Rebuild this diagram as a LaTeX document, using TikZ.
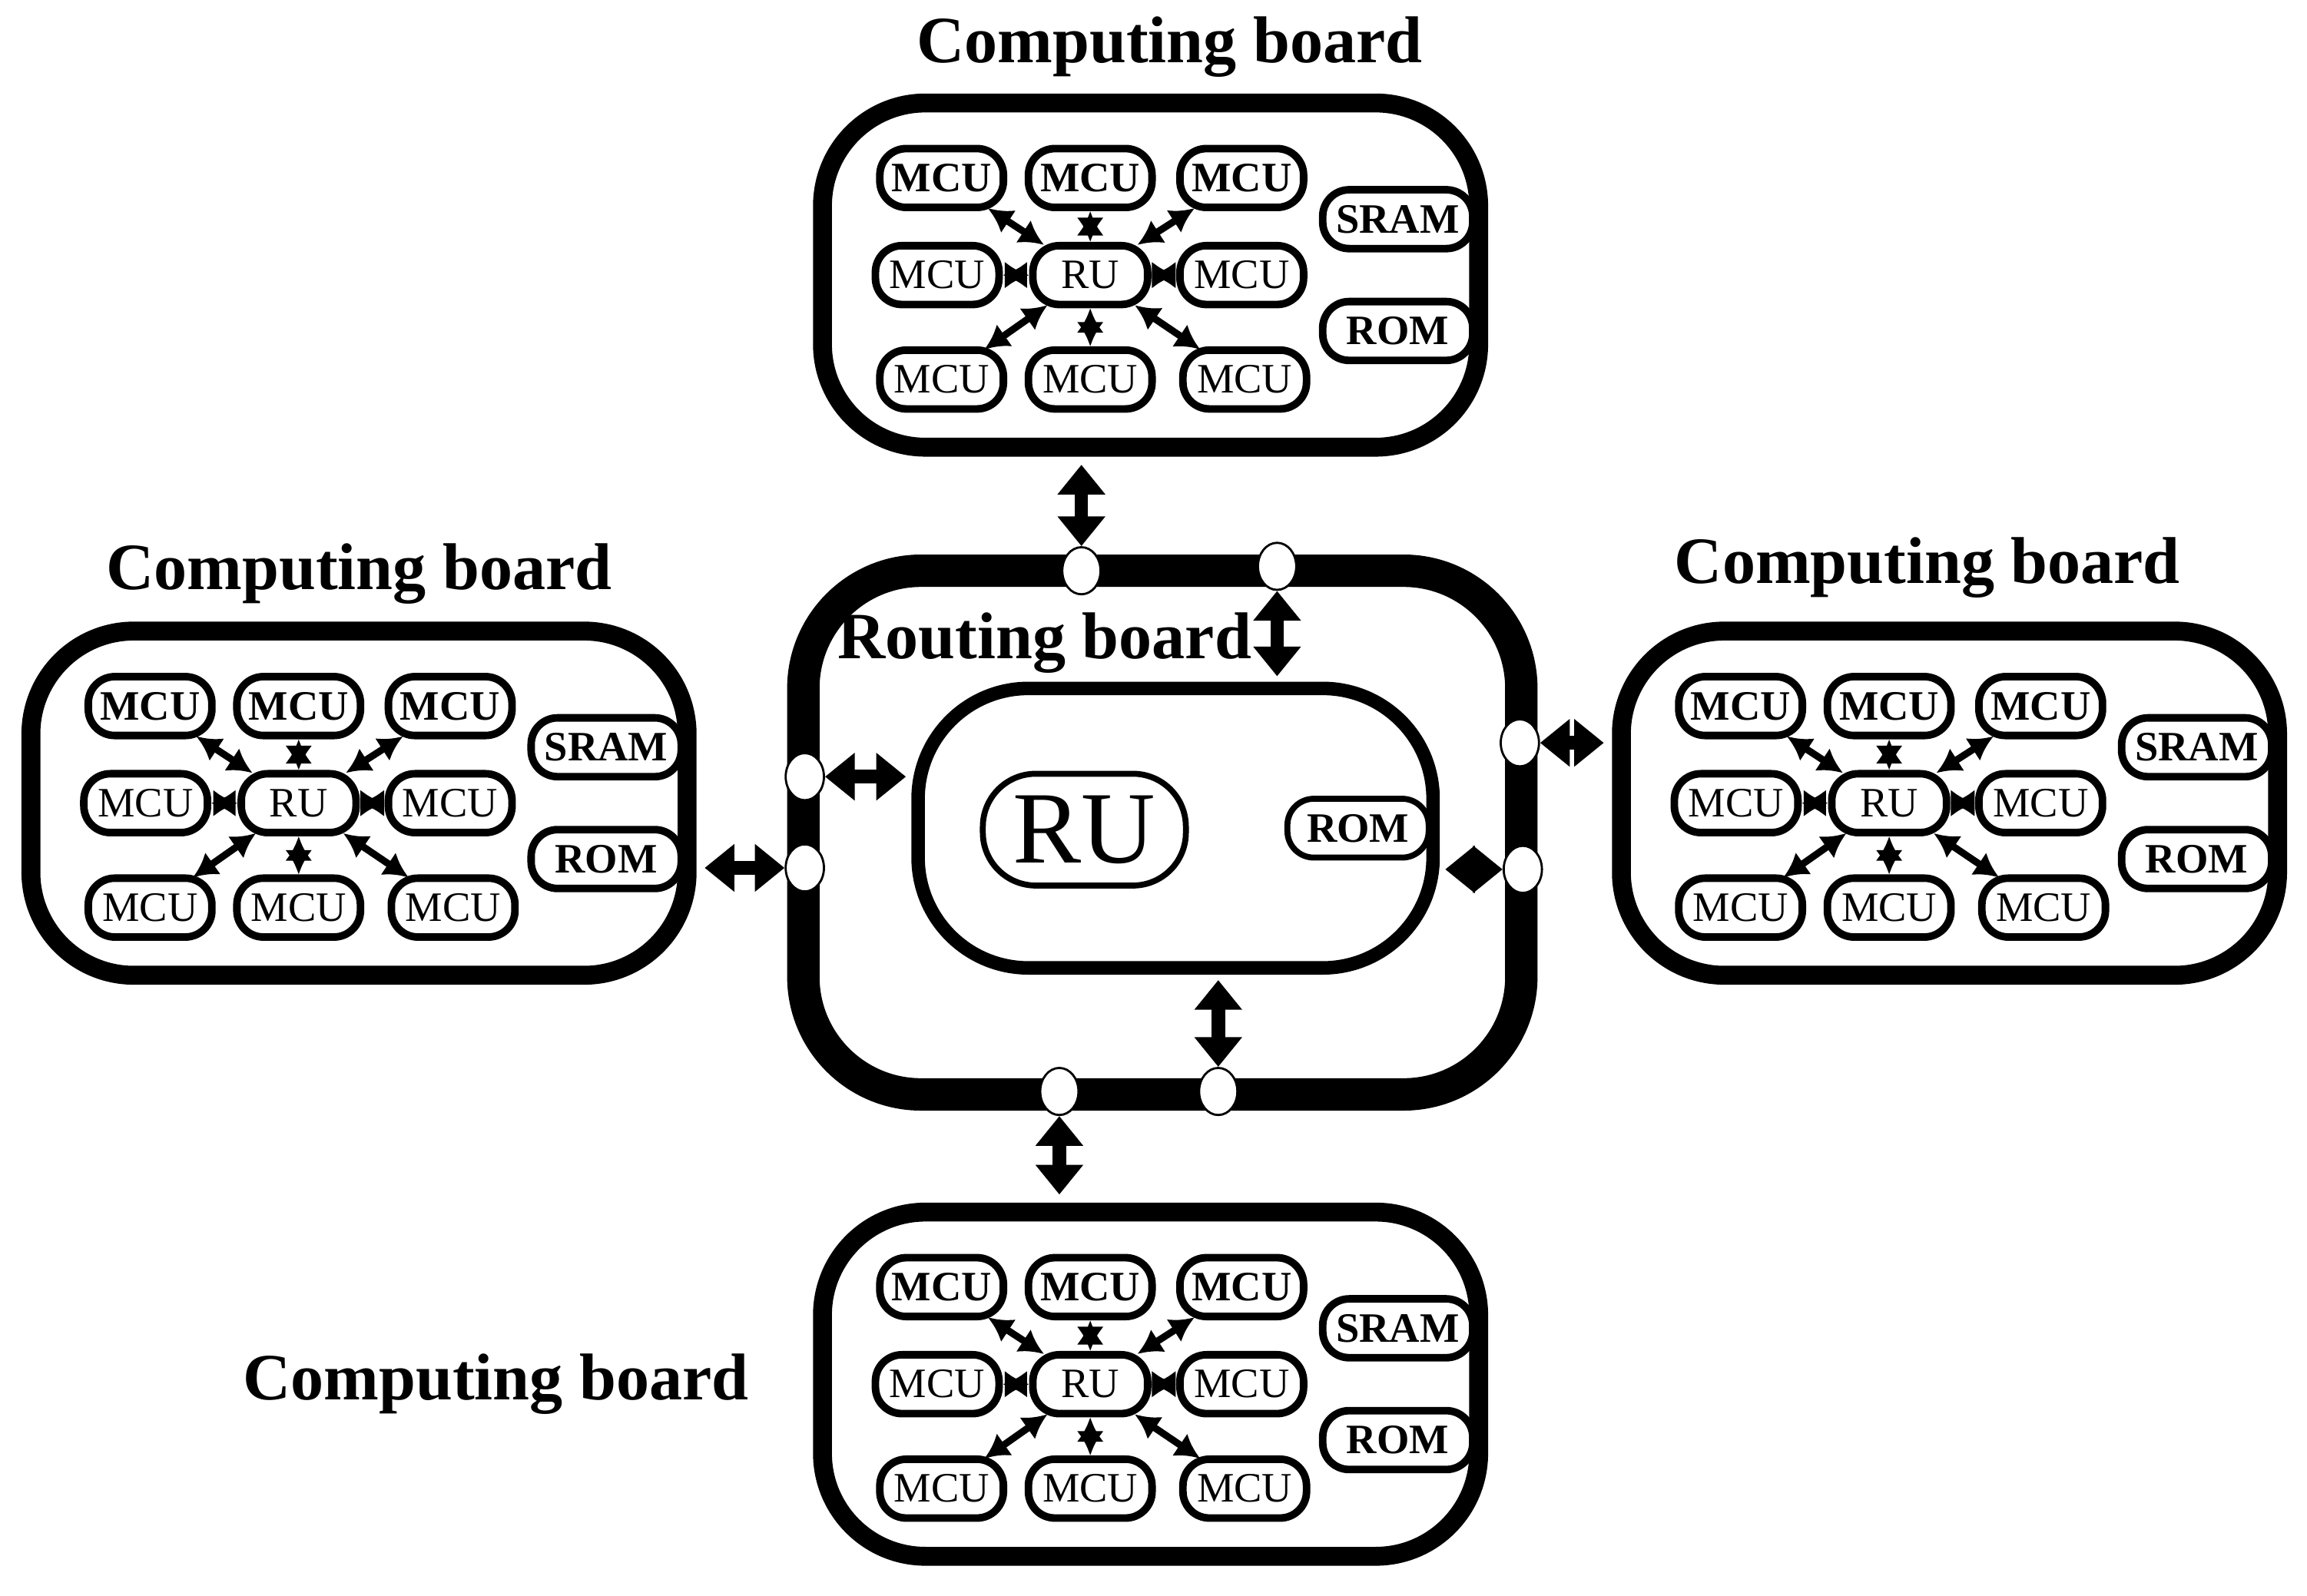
\documentclass[tikz,border=0pt]{standalone}
\usepackage{fontspec}
\setmainfont{Liberation Serif}
\usetikzlibrary{arrows.meta,shapes.geometric}
\def\u{0.01915cm}
\tikzset{
 board/.style={draw,line width=7pt,minimum width={446*\u},minimum height={234*\u},rounded corners={70*\u}},
 unit/.style={draw,line width=2.8pt,minimum width={84*\u},minimum height={40*\u},rounded corners={18*\u},inner sep=0pt,font=\fontsize{15.5}{15.5}\selectfont},
 bunit/.style={unit,font=\fontsize{15.5}{15.5}\selectfont\bfseries},
 mem/.style={bunit,minimum width={102*\u}},
 title/.style={font=\fontsize{24.5}{24.5}\selectfont\bfseries,inner sep=0pt},
 sarr/.style={line width=2.6pt,{Latex[length=9pt,width=10pt]}-{Latex[length=9pt,width=10pt]}},
 barr/.style={line width=5pt,{Triangle[length=11pt,width=17pt]}-{Triangle[length=11pt,width=17pt]}},
 port/.style={ellipse,draw,line width=0.8pt,fill=white,minimum width={26*\u},minimum height={32*\u},inner sep=0pt},
}
\newcommand\cboard[3]{%
 \node[board] (#1) at ({#2*\u},{-#3*\u}) {};
 \begin{scope}[shift={({#2*\u},{-#3*\u})}]
 \node[bunit] (#1-a) at ({-142*\u},{66*\u}) {MCU};
 \node[bunit] (#1-b) at ({-41*\u},{66*\u}) {MCU};
 \node[bunit] (#1-c) at ({62*\u},{66*\u}) {MCU};
 \node[unit] (#1-d) at ({-145*\u},0) {MCU};
 \node[unit,minimum width={78*\u}] (#1-r) at ({-41*\u},0) {RU};
 \node[unit] (#1-e) at ({62*\u},0) {MCU};
 \node[unit] (#1-f) at ({-142*\u},{-71*\u}) {MCU};
 \node[unit] (#1-g) at ({-41*\u},{-71*\u}) {MCU};
 \node[unit] (#1-h) at ({64*\u},{-71*\u}) {MCU};
 \node[mem] (#1-s) at ({168*\u},{38*\u}) {SRAM};
 \node[mem] (#1-o) at ({168*\u},{-38*\u}) {ROM};
 \end{scope}
 \foreach \t in {a,c,f,h}{\draw[sarr,shorten <=-2pt,shorten >=-2pt] (#1-r) -- (#1-\t);}
 \foreach \t in {b,d,e,g}{\draw[sarr] (#1-r) -- (#1-\t);}
}
\begin{document}
\begin{tikzpicture}
\useasboundingbox (0,0) rectangle ({1568*\u},{-1085*\u});
\cboard{T}{782}{187}
\cboard{L}{244}{546}
\cboard{R}{1325}{546}
\cboard{B}{782}{941}
\node[title] at ({795*\u},{-32*\u}) {Computing board};
\node[title] at ({244*\u},{-390*\u}) {Computing board};
\node[title] at ({1310*\u},{-386*\u}) {Computing board};
\node[title] at ({337*\u},{-941*\u}) {Computing board};
% routing board
\node[draw,line width=12pt,minimum width={488*\u},minimum height={356*\u},rounded corners={80*\u}] (RB) at ({790*\u},{-566*\u}) {};
\node[title] at ({710*\u},{-437*\u}) {Routing board};
\node[draw,line width=5pt,minimum width={350*\u},minimum height={190*\u},rounded corners={75*\u}] (IB) at ({799*\u},{-563*\u}) {};
\node[draw,line width=2.2pt,minimum width={138*\u},minimum height={76*\u},rounded corners={36*\u},inner sep=0pt,font=\fontsize{38}{38}\selectfont] (BRU) at ({737*\u},{-564*\u}) {RU};
\node[mem,minimum width={96*\u},line width=2.2pt] (BROM) at ({923*\u},{-563*\u}) {ROM};
% ports
\node[port] (p1) at ({735*\u},{-388*\u}) {};
\node[port] (p2) at ({868*\u},{-385*\u}) {};
\node[port] (p3) at ({547*\u},{-528*\u}) {};
\node[port] (p4) at ({547*\u},{-590*\u}) {};
\node[port] (p5) at ({1033*\u},{-505*\u}) {};
\node[port] (p6) at ({1035*\u},{-591*\u}) {};
\node[port] (p7) at ({720*\u},{-742*\u}) {};
\node[port] (p8) at ({828*\u},{-742*\u}) {};
% big arrows
\draw[barr,shorten <=3pt] (T.south -| p1) -- (p1.north);
\draw[barr,shorten >=2pt] (p2.south) -- (IB.north -| p2);
\draw[barr,shorten >=2pt] (p3.east) -- (IB.west |- p3);
\draw[barr,shorten <=3pt] (L.east |- p4) -- (p4.west);
\draw[barr,shorten <=3pt] (R.west |- p5) -- (p5.east);
\draw[barr,shorten <=2pt] (IB.east |- p6) -- (p6.west);
\draw[barr,shorten <=2pt] (IB.south -| p8) -- (p8.north);
\draw[barr,shorten >=3pt] (p7.south) -- (B.north -| p7);
\end{tikzpicture}
\end{document}
